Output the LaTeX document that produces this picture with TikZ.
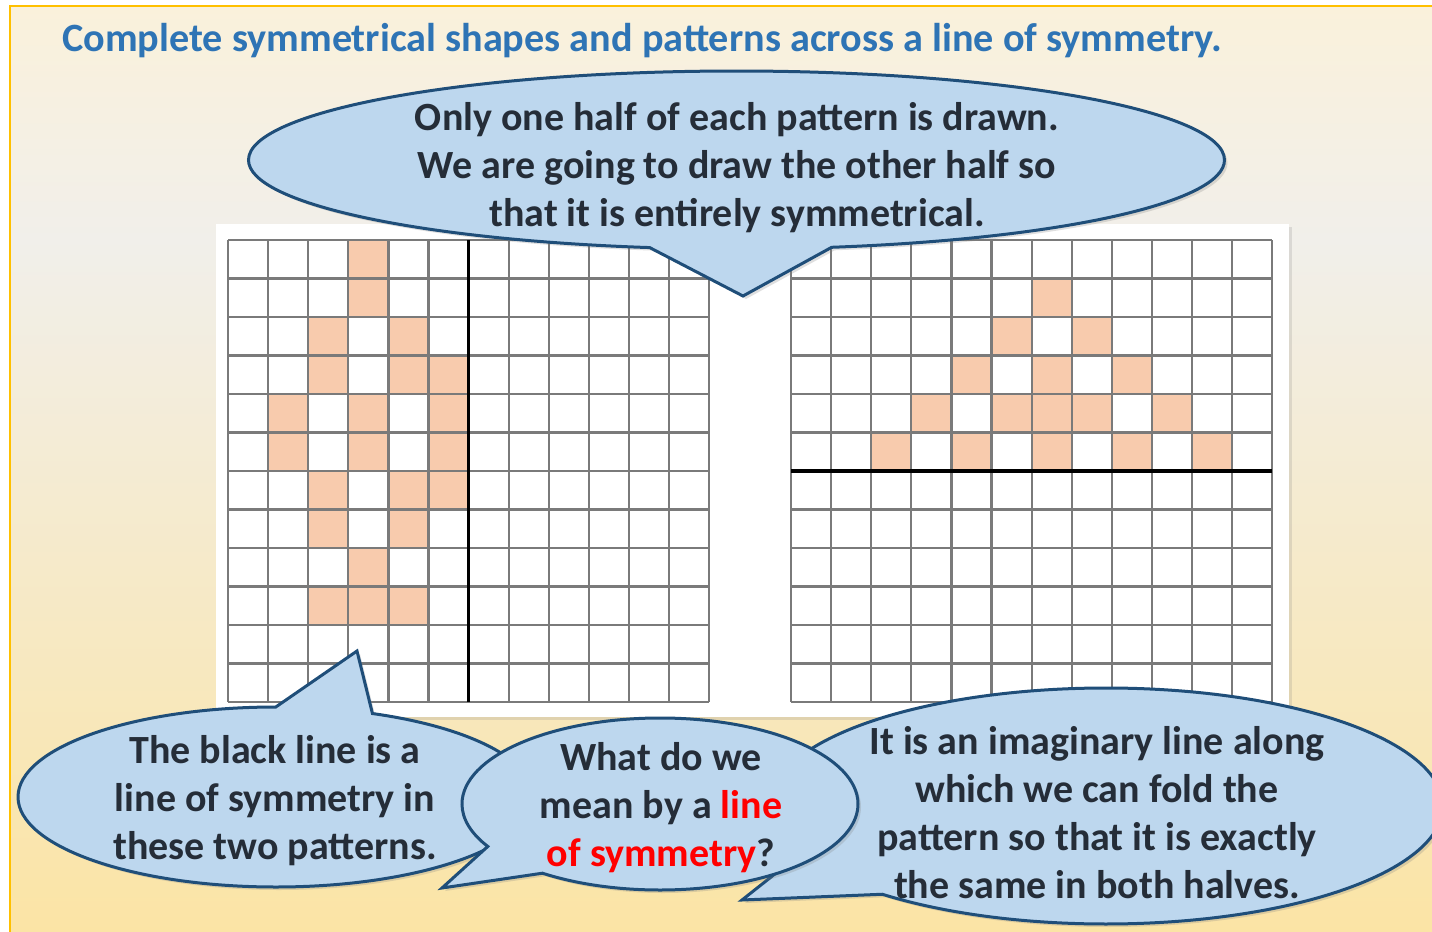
\documentclass[tikz,border=0pt]{standalone}
\usepackage{fontspec}
\setmainfont{Carlito}
\usetikzlibrary{shapes.callouts,shadows}

\definecolor{bgtop}{HTML}{FAF1DB}
\definecolor{bgmid}{HTML}{F1EFEA}
\definecolor{bgbot}{HTML}{FBE4A5}
\definecolor{framegold}{HTML}{FFC000}
\definecolor{titleblue}{HTML}{2E74B5}
\definecolor{bubblefill}{HTML}{BDD7EE}
\definecolor{bubbleedge}{HTML}{1F4E79}
\definecolor{inktext}{HTML}{252D38}
\definecolor{peach}{HTML}{F8CBAD}
\definecolor{gridgrey}{HTML}{7A7A7A}

\begin{document}
\begin{tikzpicture}[x=0.5pt,y=-0.5pt,
  bubble/.style={ellipse callout,draw=bubbleedge,fill=bubblefill,
    line width=1.5pt,inner sep=0pt,
    drop shadow={shadow xshift=1.5pt,shadow yshift=-1.5pt,opacity=.25}},
  talk/.style={font=\fontsize{20}{24}\selectfont\bfseries,text=inktext,
    align=center,inner sep=0pt},
  gridline/.style={gridgrey,line width=1.1pt}]
% pixel units, y running down the page: 1432 x 932 like the slide
\useasboundingbox (0,0) rectangle (1432,932);
\def\cellw{40.1}\def\cellh{38.5}

% slide background and its gold frame
\shade[top color=bgtop,bottom color=bgmid] (10,6) rectangle (1432,240);
\shade[top color=bgmid,bottom color=bgbot] (10,240) rectangle (1432,932);
\draw[framegold,line width=1pt] (10,932) -- (10,6) -- (1432,6);

\node[anchor=base west,inner sep=0pt,text=titleblue,
  font=\fontsize{20.1}{24}\selectfont\bfseries] (heading) at (62,51)
  {Complete symmetrical shapes and patterns across a line of symmetry.};

% white sheet behind both grids
\path[fill=white,drop shadow={shadow xshift=1.5pt,shadow yshift=-1.5pt,opacity=.2}]
  (216,224) rectangle (1289,717);

% one 12x12 grid: shaded cells first, ruling on top
\newcommand{\symsheet}[3]{%
  \begin{scope}[shift={(#1,#2)}]
    \foreach \c/\r in {#3}{
      \fill[peach] (\c*\cellw,\r*\cellh) rectangle ++(\cellw,\cellh);}
    \foreach \k in {0,...,12}{
      \draw[gridline] (\k*\cellw,0) -- (\k*\cellw,12*\cellh);
      \draw[gridline] (0,\k*\cellh) -- (12*\cellw,\k*\cellh);}
  \end{scope}}

\symsheet{228}{240}{3/0,3/1,2/2,4/2,2/3,4/3,5/3,1/4,3/4,5/4,1/5,3/5,5/5,
  2/6,4/6,5/6,2/7,4/7,3/8,2/9,3/9,4/9}
\symsheet{791}{240}{6/1,5/2,7/2,4/3,6/3,8/3,3/4,5/4,6/4,7/4,9/4,
  2/5,4/5,6/5,8/5,10/5}

% the mirror lines
\draw[black,line width=1.6pt] (228+6*\cellw,240) -- (228+6*\cellw,240+12*\cellh);
\draw[black,line width=1.6pt] (791,240+6*\cellh) -- (791+12*\cellw,240+6*\cellh);

% speech bubbles; the middle one sits on top of its neighbours
% (pointer arc is taken on the unit circle, so flat bubbles need small arcs)
\node[bubble,minimum width=488pt,minimum height=89pt,callout pointer arc=21.5,
  callout absolute pointer={(743,296)}] (halfcall) at (736.5,160) {};
\node[talk] (halftext) at (737,168) {Only one half of each pattern is drawn.\\
  We are going to draw the other half so\\that it is entirely symmetrical.};

\node[bubble,minimum width=258pt,minimum height=90pt,callout pointer arc=22,
  callout absolute pointer={(357,651)}] (blackcall) at (276,797) {};
\node[talk] (blacktext) at (275,801) {The black line is a\\
  line of symmetry in\\these two patterns.};

\node[bubble,minimum width=337pt,minimum height=118pt,callout pointer arc=24,
  callout absolute pointer={(742,900)}] (foldcall) at (1106,806) {};
\node[talk] (foldtext) at (1097,813) {It is an imaginary line along\\
  which we can fold the\\pattern so that it is exactly\\the same in both halves.};

\node[bubble,minimum width=198pt,minimum height=86pt,callout pointer arc=24,
  callout absolute pointer={(442,888)}] (askcall) at (660,804) {};
\node[talk] (asktext) at (661,808) {What do we\\
  mean by a \textcolor{red}{line}\\\textcolor{red}{of symmetry}?};
\end{tikzpicture}
\end{document}
